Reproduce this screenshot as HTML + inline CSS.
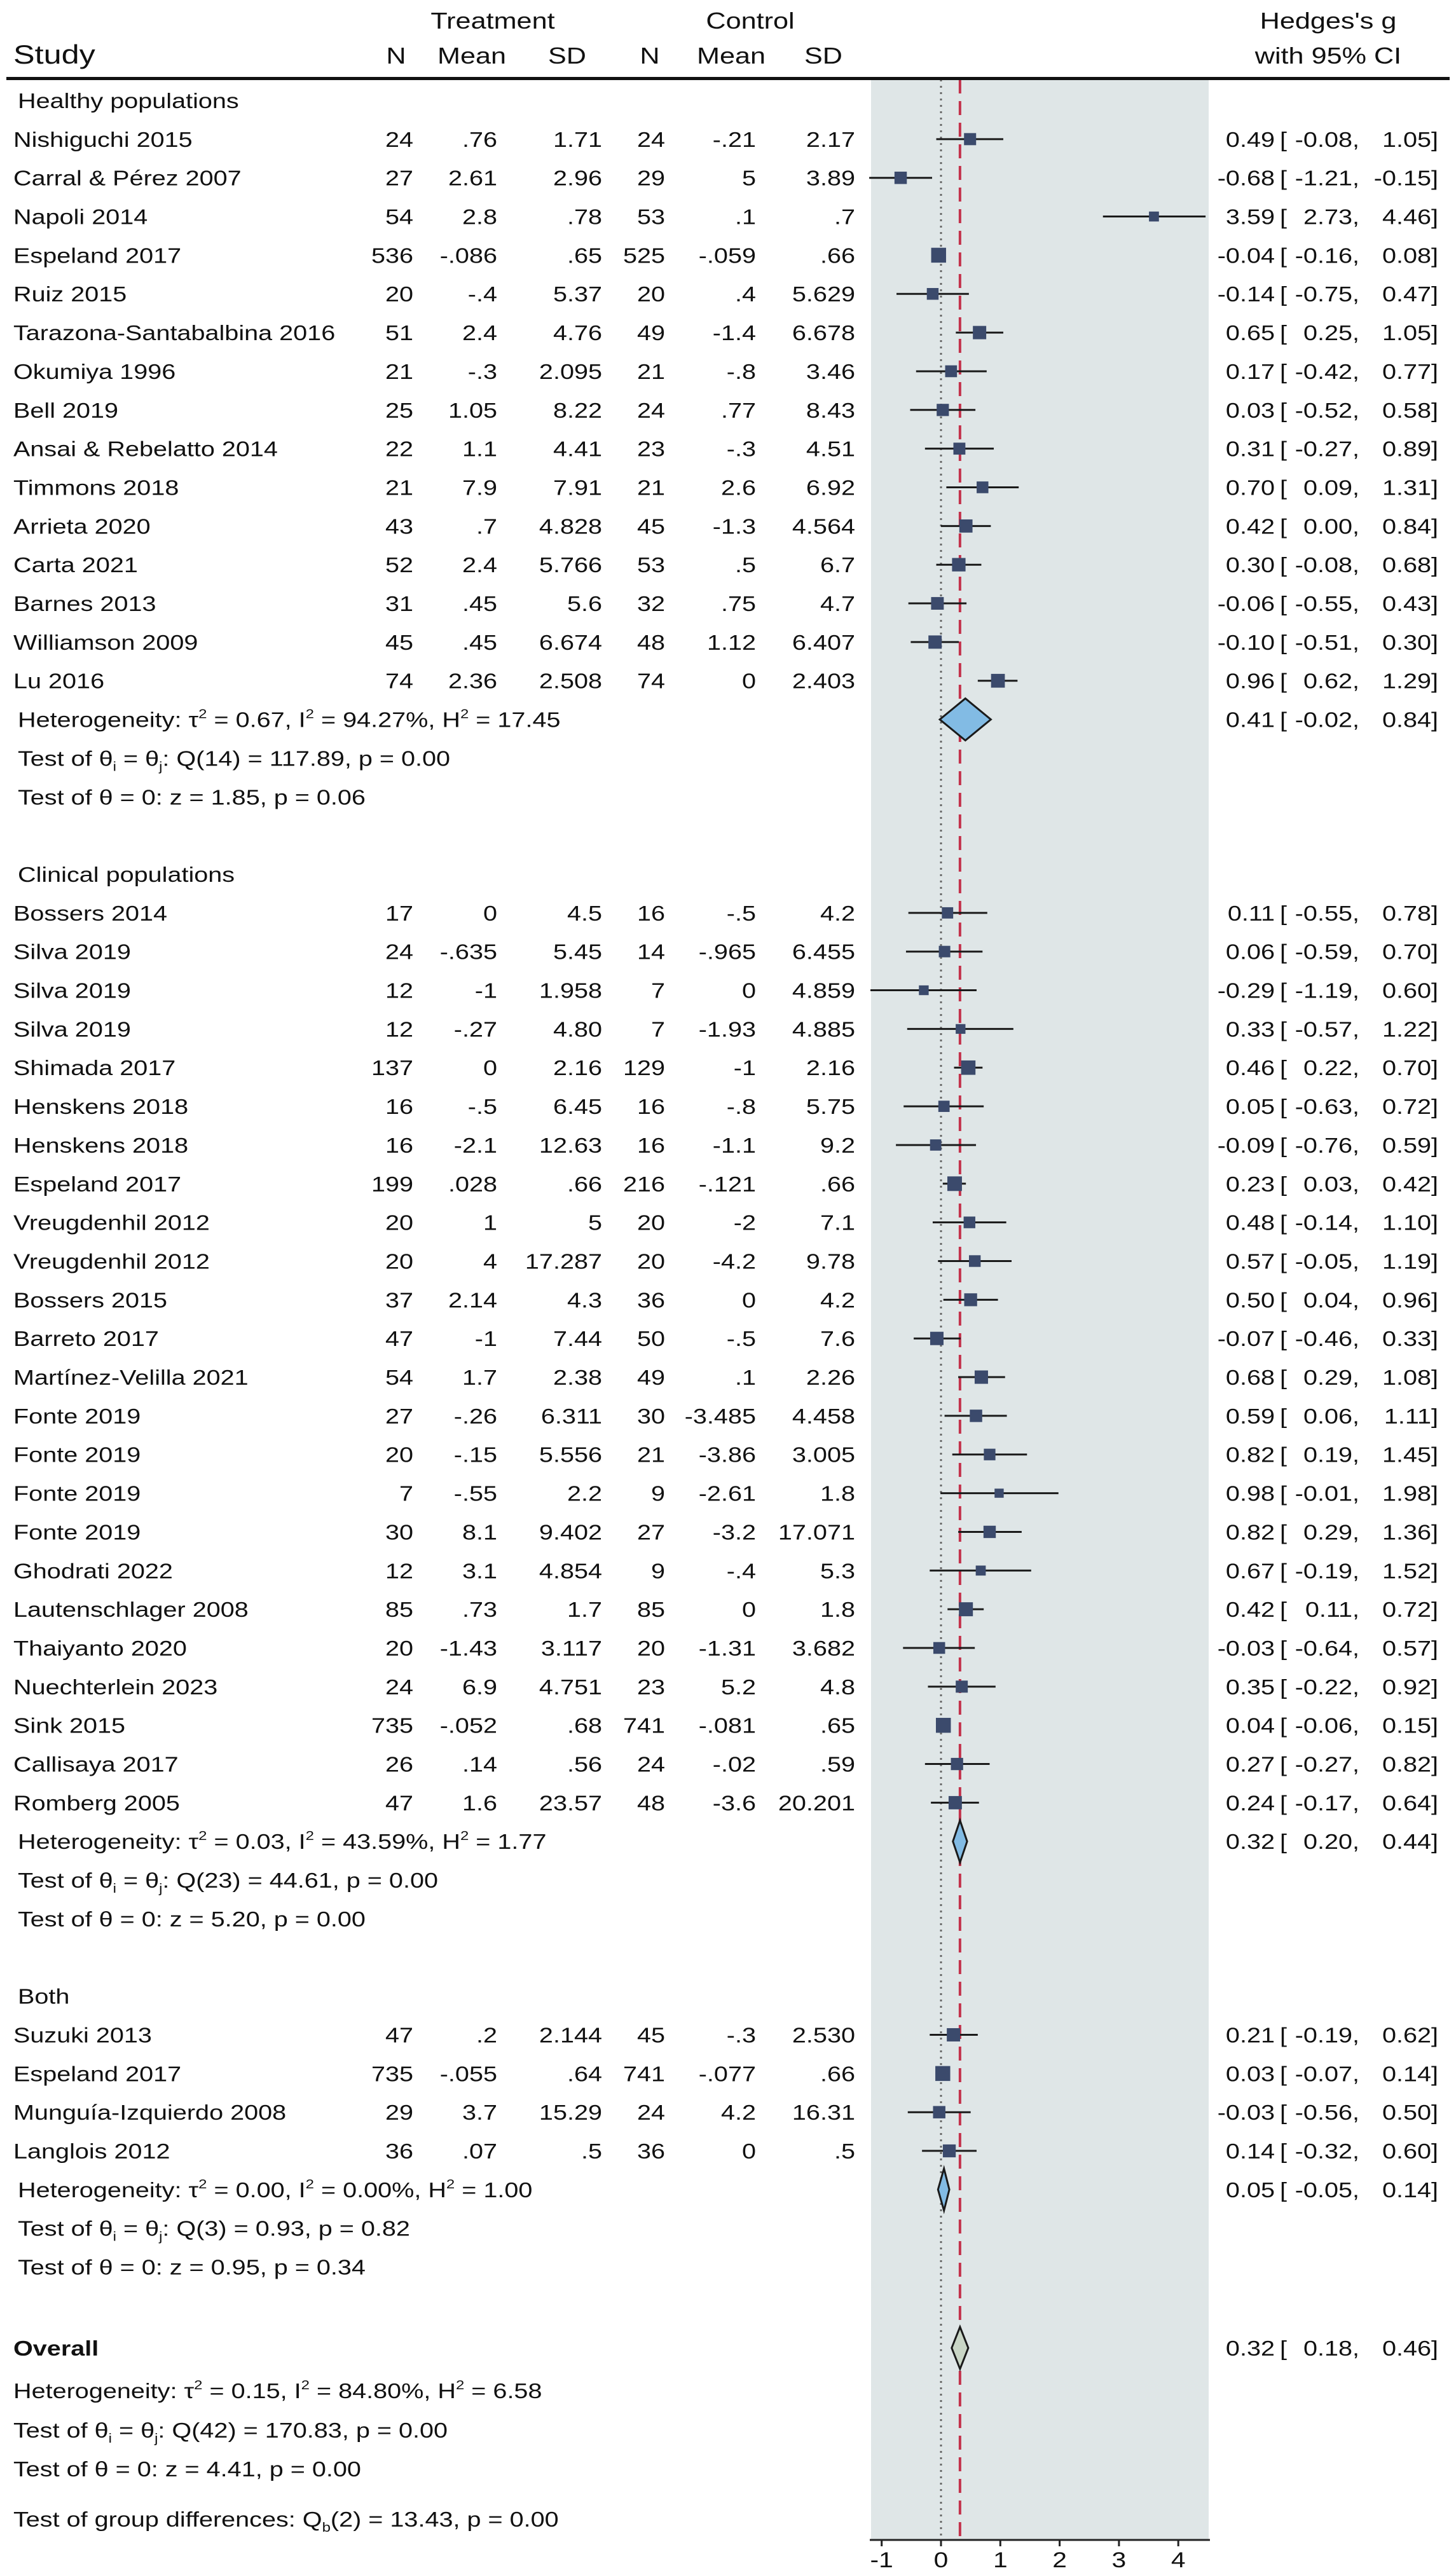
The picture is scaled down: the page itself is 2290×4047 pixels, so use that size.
<!DOCTYPE html>
<html><head><meta charset="utf-8"><title>Forest plot</title>
<style>html,body{margin:0;padding:0;background:#fff}svg{display:block}text{font-family:"Liberation Sans",Arial,sans-serif;fill:#111}</style>
</head><body>
<svg id="chart" xmlns="http://www.w3.org/2000/svg" width="2290" height="4047" viewBox="0 0 2290 4047">
<rect x="0" y="0" width="2290" height="4047" fill="#fff"/>
<g id="panelLayer"></g>
<g id="markLayer"></g>
<g id="textLayer" transform="scale(1.2,1)"></g>
</svg>
<script>
// ---------- data ----------
const healthyNames = ["Nishiguchi 2015","Carral & Pérez 2007","Napoli 2014","Espeland 2017","Ruiz 2015","Tarazona-Santabalbina 2016","Okumiya 1996","Bell 2019","Ansai & Rebelatto 2014","Timmons 2018","Arrieta 2020","Carta 2021","Barnes 2013","Williamson 2009","Lu 2016"];
const healthyTN = ["24","27","54","536","20","51","21","25","22","21","43","52","31","45","74"];
const healthyTMean = [".76","2.61","2.8","-.086","-.4","2.4","-.3","1.05","1.1","7.9",".7","2.4",".45",".45","2.36"];
const healthyTSD = ["1.71","2.96",".78",".65","5.37","4.76","2.095","8.22","4.41","7.91","4.828","5.766","5.6","6.674","2.508"];
const healthyCN = ["24","29","53","525","20","49","21","24","23","21","45","53","32","48","74"];
const healthyCMean = ["-.21","5",".1","-.059",".4","-1.4","-.8",".77","-.3","2.6","-1.3",".5",".75","1.12","0"];
const healthyCSD = ["2.17","3.89",".7",".66","5.629","6.678","3.46","8.43","4.51","6.92","4.564","6.7","4.7","6.407","2.403"];
const healthyG = [0.49,-0.68,3.59,-0.04,-0.14,0.65,0.17,0.03,0.31,0.70,0.42,0.30,-0.06,-0.10,0.96];
const healthyLo = [-0.08,-1.21,2.73,-0.16,-0.75,0.25,-0.42,-0.52,-0.27,0.09,0.00,-0.08,-0.55,-0.51,0.62];
const healthyHi = [1.05,-0.15,4.46,0.08,0.47,1.05,0.77,0.58,0.89,1.31,0.84,0.68,0.43,0.30,1.29];

const clinicalNames = ["Bossers 2014","Silva 2019","Silva 2019","Silva 2019","Shimada 2017","Henskens 2018","Henskens 2018","Espeland 2017","Vreugdenhil 2012","Vreugdenhil 2012","Bossers 2015","Barreto 2017","Martínez-Velilla 2021","Fonte 2019","Fonte 2019","Fonte 2019","Fonte 2019","Ghodrati 2022","Lautenschlager 2008","Thaiyanto 2020","Nuechterlein 2023","Sink 2015","Callisaya 2017","Romberg 2005"];
const clinicalTN = ["17","24","12","12","137","16","16","199","20","20","37","47","54","27","20","7","30","12","85","20","24","735","26","47"];
const clinicalTMean = ["0","-.635","-1","-.27","0","-.5","-2.1",".028","1","4","2.14","-1","1.7","-.26","-.15","-.55","8.1","3.1",".73","-1.43","6.9","-.052",".14","1.6"];
const clinicalTSD = ["4.5","5.45","1.958","4.80","2.16","6.45","12.63",".66","5","17.287","4.3","7.44","2.38","6.311","5.556","2.2","9.402","4.854","1.7","3.117","4.751",".68",".56","23.57"];
const clinicalCN = ["16","14","7","7","129","16","16","216","20","20","36","50","49","30","21","9","27","9","85","20","23","741","24","48"];
const clinicalCMean = ["-.5","-.965","0","-1.93","-1","-.8","-1.1","-.121","-2","-4.2","0","-.5",".1","-3.485","-3.86","-2.61","-3.2","-.4","0","-1.31","5.2","-.081","-.02","-3.6"];
const clinicalCSD = ["4.2","6.455","4.859","4.885","2.16","5.75","9.2",".66","7.1","9.78","4.2","7.6","2.26","4.458","3.005","1.8","17.071","5.3","1.8","3.682","4.8",".65",".59","20.201"];
const clinicalG = [0.11,0.06,-0.29,0.33,0.46,0.05,-0.09,0.23,0.48,0.57,0.50,-0.07,0.68,0.59,0.82,0.98,0.82,0.67,0.42,-0.03,0.35,0.04,0.27,0.24];
const clinicalLo = [-0.55,-0.59,-1.19,-0.57,0.22,-0.63,-0.76,0.03,-0.14,-0.05,0.04,-0.46,0.29,0.06,0.19,-0.01,0.29,-0.19,0.11,-0.64,-0.22,-0.06,-0.27,-0.17];
const clinicalHi = [0.78,0.70,0.60,1.22,0.70,0.72,0.59,0.42,1.10,1.19,0.96,0.33,1.08,1.11,1.45,1.98,1.36,1.52,0.72,0.57,0.92,0.15,0.82,0.64];

const bothNames = ["Suzuki 2013","Espeland 2017","Munguía-Izquierdo 2008","Langlois 2012"];
const bothTN = ["47","735","29","36"];
const bothTMean = [".2","-.055","3.7",".07"];
const bothTSD = ["2.144",".64","15.29",".5"];
const bothCN = ["45","741","24","36"];
const bothCMean = ["-.3","-.077","4.2","0"];
const bothCSD = ["2.530",".66","16.31",".5"];
const bothG = [0.21,0.03,-0.03,0.14];
const bothLo = [-0.19,-0.07,-0.56,-0.32];
const bothHi = [0.62,0.14,0.50,0.60];

const summaryG = [0.41,0.32,0.05,0.32];
const summaryLo = [-0.02,0.20,-0.05,0.18];
const summaryHi = [0.84,0.44,0.14,0.46];
const tau2Overall = 0.15;
const xTicks = [-1,0,1,2,3,4];
const xTickLabels = ["-1","0","1","2","3","4"];
// ---------- geometry ----------
const NS = "http://www.w3.org/2000/svg";
const SX = 1.2;
const X0 = 1480, XU = 93.3;
function xScale(v){ return X0 + v*XU; }
function rowY(k){ return 170 + 60.85*k; }
const panelTop = 125, axisY = 3995, panelL = 1370, panelR = 1901;
const panelLayer = document.getElementById('panelLayer');
const markLayer = document.getElementById('markLayer');
const textLayer = document.getElementById('textLayer');

function mk(tag, attrs, parent){
  const e = document.createElementNS(NS, tag);
  for (const k in attrs) e.setAttribute(k, attrs[k]);
  parent.appendChild(e);
  return e;
}
function txt(x, y, s, anchor, size, name, weight){
  const t = document.createElementNS(NS, 'text');
  t.setAttribute('x', (x/SX).toFixed(2));
  t.setAttribute('y', y.toFixed(2));
  t.setAttribute('font-size', size || 33);
  if (anchor) t.setAttribute('text-anchor', anchor);
  if (weight) t.setAttribute('font-weight', weight);
  t.textContent = s;
  
  
  textLayer.appendChild(t);
  return t;
}
function txtHTML(x, y, html, name){
  const t = document.createElementNS(NS, 'text');
  t.setAttribute('x', (x/SX).toFixed(2));
  t.setAttribute('y', y.toFixed(2));
  t.setAttribute('font-size', 33);
  t.innerHTML = html;
  
  
  textLayer.appendChild(t);
  return t;
}
// panel
const pr = mk('rect', {x:panelL, y:panelTop, width:panelR-panelL, height:axisY-panelTop, fill:'#dfe6e7'}, panelLayer);


const zl = mk('line', {x1:xScale(0), x2:xScale(0), y1:panelTop, y2:axisY, stroke:'#666', 'stroke-width':3, 'stroke-dasharray':'3 7'}, panelLayer);


const ol = mk('line', {x1:xScale(summaryG[3]), x2:xScale(summaryG[3]), y1:panelTop, y2:axisY, stroke:'#c3324c', 'stroke-width':4, 'stroke-dasharray':'22 12'}, panelLayer);



// header
const hr = mk('rect', {x:10, y:121, width:2270, height:5, fill:'#111'}, panelLayer);


txt(775, 45, 'Treatment', 'middle', 36, 'treatment-header');
txt(1180, 45, 'Control', 'middle', 36, 'control-header');
txt(2089, 45, "Hedges's g", 'middle', 36, 'effect-header');
txt(21, 100, 'Study', null, 42, 'study-header');
txt(623, 100, 'N', 'middle', 36, 'treatment-n-header');
txt(742, 100, 'Mean', 'middle', 36, 'treatment-mean-header');
txt(892, 100, 'SD', 'middle', 36, 'treatment-sd-header');
txt(1022, 100, 'N', 'middle', 36, 'control-n-header');
txt(1150, 100, 'Mean', 'middle', 36, 'control-mean-header');
txt(1295, 100, 'SD', 'middle', 36, 'control-sd-header');
txt(2089, 100, 'with 95% CI', 'middle', 36, 'ci-header');

function f2(v){ return (Math.abs(v) < 0.005 ? 0 : v).toFixed(2); }
function ciText(y, g, lo, hi, nm){
  txt(2005, y, f2(g), 'end', 33, nm+'-estimate');
  txt(2013, y, '[', null, 33, nm+'-ci-open');
  txt(2138, y, f2(lo)+',', 'end', 33, nm+'-ci-lower');
  txt(2262, y, f2(hi)+']', 'end', 33, nm+'-ci-upper');
}
function drawStudy(k, name, tn, tm, tsd, cn, cm, csd, g, lo, hi, id){
  const y = rowY(k);
  txt(21, y, name, null, 33, id+'-label');
  txt(650, y, tn, 'end', 33, id+'-treatment-n');
  txt(782, y, tm, 'end', 33, id+'-treatment-mean');
  txt(947, y, tsd, 'end', 33, id+'-treatment-sd');
  txt(1046, y, cn, 'end', 33, id+'-control-n');
  txt(1189, y, cm, 'end', 33, id+'-control-mean');
  txt(1345, y, csd, 'end', 33, id+'-control-sd');
  ciText(y, g, lo, hi, id);
  const cy = y - 12;
  const l = mk('line', {x1:xScale(lo), x2:xScale(hi), y1:cy, y2:cy, stroke:'#1a1a1a', 'stroke-width':3}, markLayer);
  
  
  const se = (hi - lo)/3.92;
  const w = 1/(se*se + tau2Overall);
  const s = 19 * Math.sqrt(w) / 2.07;
  const r = mk('rect', {x:xScale(g)-s/2, y:cy-s/2, width:s, height:s, fill:'#3b4a6c'}, markLayer);
  
  
}
function drawDiamond(y, i, fill, id){
  const cy = y - 12, h = 33;
  const pts = [[xScale(summaryLo[i]),cy],[xScale(summaryG[i]),cy-h],[xScale(summaryHi[i]),cy],[xScale(summaryG[i]),cy+h]].map(p=>p[0].toFixed(1)+','+p[1].toFixed(1)).join(' ');
  const d = mk('polygon', {points:pts, fill:fill, stroke:'#1a1a1a', 'stroke-width':3}, markLayer);
  
  
  ciText(y, summaryG[i], summaryLo[i], summaryHi[i], id);
}
const SUBI = '<tspan font-size="20" dy="8">i</tspan><tspan dy="-8"> = </tspan>';
const SUBJ = '<tspan font-size="20" dy="8">j</tspan><tspan dy="-8">:</tspan>';
const SUP = '<tspan font-size="20" dy="-14">2</tspan><tspan dy="14"> = </tspan>';
function stats(x, k0, y1, y2, y3, t2, i2, h2, df, q, p1, z, p2, id){
  txtHTML(x, y1, 'Heterogeneity: τ'+SUP+t2+', I'+SUP+i2+', H'+SUP+h2, id+'-heterogeneity');
  txtHTML(x, y2, 'Test of θ'+SUBI+'θ'+SUBJ+' Q('+df+') = '+q+', p = '+p1, id+'-homogeneity-test');
  txt(x, y3, 'Test of θ = 0: z = '+z+', p = '+p2, null, 33, id+'-effect-test');
}
// Healthy
txt(28, rowY(0), 'Healthy populations', null, 33, 'healthy-group-label');
healthyNames.forEach((n,i)=>drawStudy(1+i, n, healthyTN[i], healthyTMean[i], healthyTSD[i], healthyCN[i], healthyCMean[i], healthyCSD[i], healthyG[i], healthyLo[i], healthyHi[i], 'healthy-study-'+(i+1)));
drawDiamond(rowY(16), 0, '#82bbe4', 'healthy-summary');
stats(28, 16, rowY(16), rowY(17), rowY(18), '0.67', '94.27%', '17.45', '14', '117.89', '0.00', '1.85', '0.06', 'healthy');
// Clinical
txt(28, rowY(20), 'Clinical populations', null, 33, 'clinical-group-label');
clinicalNames.forEach((n,i)=>drawStudy(21+i, n, clinicalTN[i], clinicalTMean[i], clinicalTSD[i], clinicalCN[i], clinicalCMean[i], clinicalCSD[i], clinicalG[i], clinicalLo[i], clinicalHi[i], 'clinical-study-'+(i+1)));
drawDiamond(rowY(45), 1, '#82bbe4', 'clinical-summary');
stats(28, 45, rowY(45), rowY(46), rowY(47), '0.03', '43.59%', '1.77', '23', '44.61', '0.00', '5.20', '0.00', 'clinical');
// Both
txt(28, rowY(49), 'Both', null, 33, 'both-group-label');
bothNames.forEach((n,i)=>drawStudy(50+i, n, bothTN[i], bothTMean[i], bothTSD[i], bothCN[i], bothCMean[i], bothCSD[i], bothG[i], bothLo[i], bothHi[i], 'both-study-'+(i+1)));
drawDiamond(rowY(54), 2, '#82bbe4', 'both-summary');
stats(28, 54, rowY(54), rowY(55), rowY(56), '0.00', '0.00%', '1.00', '3', '0.93', '0.82', '0.95', '0.34', 'both');
// Overall
txt(21, 3705, 'Overall', null, 33, 'overall-label', 'bold');
drawDiamond(3705, 3, '#c9d6c6', 'overall-summary');
stats(21, 58, 3772, 3834, 3895, '0.15', '84.80%', '6.58', '42', '170.83', '0.00', '4.41', '0.00', 'overall');
txtHTML(21, 3974, 'Test of group differences: Q<tspan font-size="20" dy="8">b</tspan><tspan dy="-8">(2) = 13.43, p = 0.00</tspan>', 'group-difference-test');
// axis
const ax = mk('line', {x1:panelL-2, x2:panelR+2, y1:axisY, y2:axisY, stroke:'#222', 'stroke-width':3}, markLayer);


xTicks.forEach((v,i)=>{
  const t = mk('line', {x1:xScale(v), x2:xScale(v), y1:axisY, y2:axisY+10, stroke:'#222', 'stroke-width':3}, markLayer);
  
  
  txt(xScale(v), 4038, xTickLabels[i], 'middle', 34, 'x-tick-label');
});
</script>
</body></html>
